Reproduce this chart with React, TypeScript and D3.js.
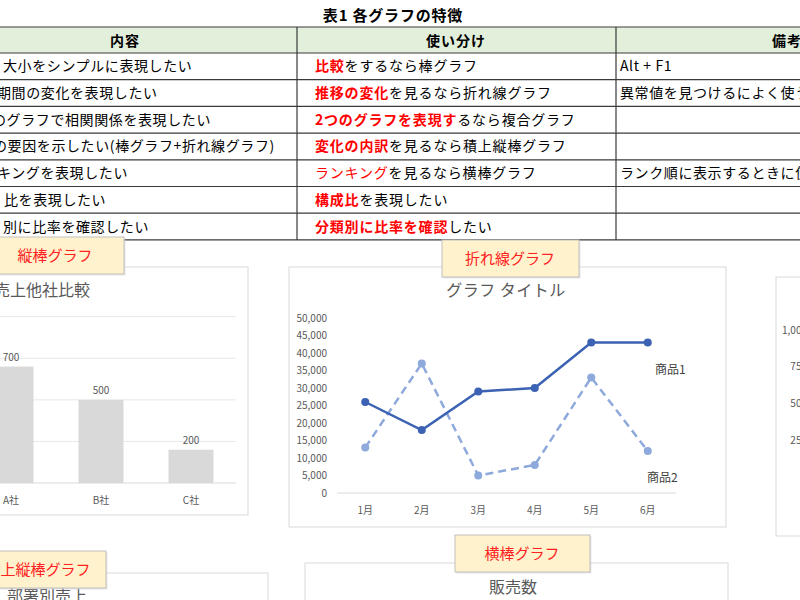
import React, { useEffect } from 'react';
import * as d3 from 'd3';

// ---------- data ----------
const tableTitle = '表1 各グラフの特徴';
const tableHeaders = ['内容', '使い分け', '備考'];
const contentTexts = [
  '大小をシンプルに表現したい',
  '期間の変化を表現したい',
  'のグラフで相関関係を表現したい',
  'の要因を示したい(棒グラフ+折れ線グラフ)',
  'キングを表現したい',
  '比を表現したい',
  '別に比率を確認したい',
];
const usageRed = ['比較', '推移の変化', '2つのグラフを表現す', '変化の内訳', 'ランキング', '構成比', '分類別に比率を確認'];
const usageRest = ['をするなら棒グラフ', 'を見るなら折れ線グラフ', 'るなら複合グラフ', 'を見るなら積上縦棒グラフ', 'を見るなら横棒グラフ', 'を表現したい', 'したい'];
const remarks = ['Alt + F1', '異常値を見つけるによく使う', '', '', 'ランク順に表示するときに使う', '', ''];

const barTitle = '売上他社比較';
const barCategories = ['A社', 'B社', 'C社'];
const barValues = [700, 500, 200];
const barTicks = [0, 250, 500, 750, 1000];

const lineTitle = 'グラフ タイトル';
const months = ['1月', '2月', '3月', '4月', '5月', '6月'];
const product1 = [26000, 18000, 29000, 30000, 43000, 43000];
const product2 = [13000, 37000, 5000, 8000, 33000, 12000];
const seriesNames = ['商品1', '商品2'];

const rightTicks = [250, 500, 750, 1000];
const stackTitle = '部署別売上';
const hbarTitle = '販売数';
const labelTexts = ['縦棒グラフ', '折れ線グラフ', '積上縦棒グラフ', '横棒グラフ'];

// ---------- layout ----------
const FONT = '"Noto Sans CJK JP", "Noto Sans", sans-serif';
const contentX = [3, -3, -8, -7, -3, 4, 3];
const col1 = 297;
const col2 = 616;
const headerTop = 27;
const headerBottom = 53;
const rowH = 26.7;

const LabelBox = ({ x, y, w, h, text, cx }: any) => (
  <g>
    <rect x={x + 1.5} y={y + 1.5} width={w} height={h} fill="#d0d0d0" opacity={0.5} />
    <rect x={x} y={y} width={w} height={h} fill="#FFF2CC" stroke="#BFBFBF" strokeWidth={1} />
    <text x={cx} y={y + h / 2 + 5} textAnchor="middle" fontSize={15} fill="#FF2020" fontFamily={FONT}>
      {text}
    </text>
  </g>
);

export default function App() {
  useEffect(() => {
    document.body.style.margin = '0';
  }, []);

  // bar chart scales
  const bx = d3.scaleBand<string>().domain(barCategories).range([-34, 236]).paddingInner(0.5).paddingOuter(0.25);
  const by = d3.scaleLinear().domain([0, 1000]).range([483, 316.7]);

  // line chart scales
  const lx = d3.scaleBand<string>().domain(months).range([337, 676]);
  const ly = d3.scaleLinear().domain([0, 50000]).range([493, 318]);
  const lineGen = d3
    .line<number>()
    .x((_, i) => (lx(months[i]) as number) + lx.bandwidth() / 2)
    .y((d) => ly(d));

  // right partial chart
  const ry = d3.scaleLinear().domain([0, 1000]).range([476.7, 330]);

  const rowsY = contentTexts.map((_, i) => headerBottom + i * rowH);

  return (
    <svg width={800} height={600} style={{ display: 'block', background: '#fff' }} fontFamily={FONT}>
      {/* ---------- table ---------- */}
      <text x={393} y={21} textAnchor="middle" fontSize={15} letterSpacing={0.8} fontWeight="bold" fill="#000">
        {tableTitle}
      </text>
      <rect x={0} y={headerTop} width={800} height={headerBottom - headerTop} fill="#E2EFDA" />
      <text x={125} y={46} textAnchor="middle" fontSize={14} fontWeight="bold" letterSpacing={1} fill="#000">{tableHeaders[0]}</text>
      <text x={456} y={46} textAnchor="middle" fontSize={14} fontWeight="bold" letterSpacing={1} fill="#000">{tableHeaders[1]}</text>
      <text x={772} y={46} textAnchor="start" fontSize={14} fontWeight="bold" letterSpacing={1} fill="#000">{tableHeaders[2]}</text>
      {[headerTop, ...rowsY, headerBottom + contentTexts.length * rowH].map((y, i) => (
        <line key={'h' + i} x1={0} x2={800} y1={y} y2={y} stroke="#3a3a3a" strokeWidth={1.2} />
      ))}
      {[col1, col2].map((x, i) => (
        <line key={'v' + i} x1={x} x2={x} y1={headerTop} y2={headerBottom + contentTexts.length * rowH} stroke="#3a3a3a" strokeWidth={1.2} />
      ))}
      {contentTexts.map((t, i) => (
        <text key={'c' + i} x={contentX[i]} y={rowsY[i] + rowH / 2 + 5} fontSize={14} letterSpacing={0.6} fill="#000">
          {t}
        </text>
      ))}
      {usageRed.map((t, i) => (
        <text key={'u' + i} x={315} y={rowsY[i] + rowH / 2 + 5} fontSize={14} letterSpacing={0.8} fill="#000">
          <tspan fill="#FF0000" fontWeight={i === 4 ? 'normal' : 'bold'}>{t}</tspan>
          <tspan>{usageRest[i]}</tspan>
        </text>
      ))}
      {remarks.map((t, i) => (
        <text key={'r' + i} x={620} y={rowsY[i] + rowH / 2 + 5} fontSize={14} letterSpacing={0.6} fill="#000">
          {t}
        </text>
      ))}

      {/* ---------- bar chart ---------- */}
      <rect x={-10} y={267} width={258} height={248} fill="#fff" stroke="#D9D9D9" />
      <text x={-6} y={296} fontSize={16} fill="#595959">{barTitle}</text>
      {barTicks.map((t) => (
        <line key={'bg' + t} x1={-10} x2={236} y1={by(t)} y2={by(t)} stroke={t === 0 ? '#D9D9D9' : '#E8E8E8'} strokeWidth={1} />
      ))}
      {barValues.map((v, i) => (
        <g key={'b' + i}>
          <rect x={bx(barCategories[i])} y={by(v)} width={bx.bandwidth()} height={by(0) - by(v)} fill="#D9D9D9" />
          <text x={(bx(barCategories[i]) as number) + bx.bandwidth() / 2} y={by(v) - 6} textAnchor="middle" fontSize={10} fill="#595959">
            {v}
          </text>
          <text x={(bx(barCategories[i]) as number) + bx.bandwidth() / 2} y={504} textAnchor="middle" fontSize={10} fill="#595959">
            {barCategories[i]}
          </text>
        </g>
      ))}

      {/* ---------- line chart ---------- */}
      <rect x={289} y={267} width={437} height={260} fill="#fff" stroke="#D9D9D9" />
      <text x={506} y={296} textAnchor="middle" fontSize={16} fill="#595959" letterSpacing={0.5}>{lineTitle}</text>
      {ly.ticks(10).map((t) => (
        <text key={'ly' + t} x={327} y={ly(t) + 3.5} textAnchor="end" fontSize={10} fill="#595959">
          {d3.format(',')(t)}
        </text>
      ))}
      <line x1={337} x2={676} y1={ly(0)} y2={ly(0)} stroke="#D9D9D9" />
      {months.map((m) => (
        <text key={m} x={(lx(m) as number) + lx.bandwidth() / 2} y={514} textAnchor="middle" fontSize={10} fill="#595959">
          {m}
        </text>
      ))}
      <path d={lineGen(product2) as string} fill="none" stroke="#8EA9DB" strokeWidth={2.5} strokeDasharray="8,5" />
      {product2.map((v, i) => (
        <circle key={'p2' + i} cx={(lx(months[i]) as number) + lx.bandwidth() / 2} cy={ly(v)} r={4} fill="#8EA9DB" />
      ))}
      <path d={lineGen(product1) as string} fill="none" stroke="#3B62B3" strokeWidth={2.5} />
      {product1.map((v, i) => (
        <circle key={'p1' + i} cx={(lx(months[i]) as number) + lx.bandwidth() / 2} cy={ly(v)} r={4} fill="#3B62B3" />
      ))}
      <text x={655} y={374} fontSize={12} fill="#404040">{seriesNames[0]}</text>
      <text x={647} y={482} fontSize={12} fill="#404040">{seriesNames[1]}</text>

      {/* ---------- partial chart at right ---------- */}
      <rect x={776} y={277} width={40} height={259} fill="#fff" stroke="#D9D9D9" />
      {rightTicks.map((t) => (
        <text key={'ry' + t} x={807} y={ry(t) + 3.5} textAnchor="end" fontSize={10} fill="#595959">
          {d3.format(',')(t)}
        </text>
      ))}

      {/* ---------- bottom charts ---------- */}
      <rect x={-10} y={573} width={278} height={40} fill="#fff" stroke="#D9D9D9" />
      <text x={7} y={602} fontSize={16} fill="#595959">{stackTitle}</text>
      <rect x={305} y={563} width={423} height={50} fill="#fff" stroke="#D9D9D9" />
      <text x={513} y={593} textAnchor="middle" fontSize={16} fill="#595959">{hbarTitle}</text>

      {/* ---------- label boxes ---------- */}
      <LabelBox x={-14} y={237} w={138} h={37} text={labelTexts[0]} cx={55} />
      <LabelBox x={442} y={240} w={137} h={37} text={labelTexts[1]} cx={510} />
      <LabelBox x={-50} y={551} w={156} h={37} text={labelTexts[2]} cx={38} />
      <LabelBox x={455} y={535} w={135} h={37} text={labelTexts[3]} cx={522} />
    </svg>
  );
}
